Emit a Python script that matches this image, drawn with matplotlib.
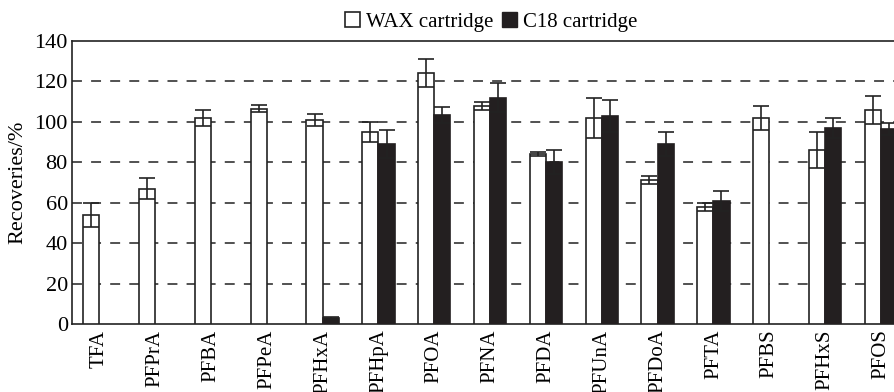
import numpy as np
import matplotlib.pyplot as plt
from matplotlib.patches import Patch

plt.rcParams['font.family'] = ['Liberation Serif', 'DejaVu Serif']

compounds = ['TFA', 'PFPrA', 'PFBA', 'PFPeA', 'PFHxA', 'PFHpA', 'PFOA', 'PFNA',
             'PFDA', 'PFUnA', 'PFDoA', 'PFTA', 'PFBS', 'PFHxS', 'PFOS']
wax_mean = [54, 67, 102, 106.5, 101, 95, 124, 108, 84, 102, 71, 58, 102, 86, 106]
wax_err = [6, 5, 4, 1.8, 3, 5, 7, 2, 1, 10, 2, 2, 6, 9, 7]
c18_mean = [0, 0, 0, 0, 3, 89, 103.5, 112, 80, 103, 89, 61, 0, 97, 96.5]
c18_err = [0, 0, 0, 0, 0.5, 7, 4, 7, 6, 8, 6, 5, 0, 5, 3]

x = np.arange(len(compounds))
w = 0.29

fig = plt.figure(figsize=(8.95, 3.92), dpi=100)
ax = fig.add_axes([0.0804, 0.1735, 0.925, 0.722])

err_kw = dict(ecolor='#222222', elinewidth=1.2, capsize=6, capthick=1.2)

# WAX bars (white), C18 bars (black)
ax.bar(x - w / 2, wax_mean, w, color='white', edgecolor='#222222', linewidth=1.2,
       yerr=wax_err, error_kw=err_kw, zorder=3)
has_c18 = np.array(c18_mean) > 0
ax.bar(x[has_c18] + w / 2, np.array(c18_mean)[has_c18], w, color='#231f20',
       edgecolor='#231f20', linewidth=1.2,
       yerr=np.array(c18_err)[has_c18], error_kw=err_kw, zorder=3)

ax.set_ylim(0, 140)
ax.set_yticks(np.arange(0, 141, 20))
ax.set_xlim(-0.49, 14.34)
ax.set_xticks(x)
ax.set_xticklabels(compounds, rotation=90)
ax.tick_params(axis='y', length=0, labelsize=16, pad=3)
ax.tick_params(axis='x', length=0, labelsize=15, pad=4)

for yv in range(20, 140, 20):
    ax.axhline(yv, color='#222222', linestyle=(0, (6.5, 6)), linewidth=1.1, zorder=1)

for s in ['left', 'bottom', 'top', 'right']:
    ax.spines[s].set_linewidth(1.2)
    ax.spines[s].set_color('#222222')

ax.set_ylabel('Recoveries/%', fontsize=16, labelpad=5)

handles = [Patch(facecolor='white', edgecolor='#222222', linewidth=1.2, label='WAX cartridge'),
           Patch(facecolor='#231f20', edgecolor='#231f20', label='C18 cartridge')]
fig.legend(handles=handles, loc='center', bbox_to_anchor=(0.549, 0.944), ncol=2,
           frameon=False, fontsize=15, handlelength=0.7, handleheight=0.7,
           handletextpad=0.3, columnspacing=0.4)

fig.savefig('out.png', dpi=100)
